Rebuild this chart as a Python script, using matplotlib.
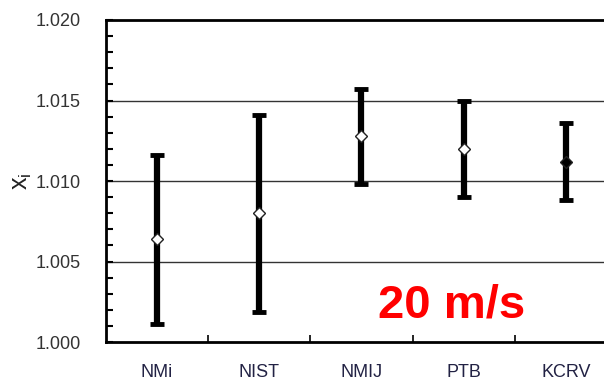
import numpy as np
import matplotlib.pyplot as plt

plt.rcParams['font.family'] = ['Liberation Sans', 'DejaVu Sans']

# data
labs = ["NMi", "NIST", "NMIJ", "PTB", "KCRV"]
vals = [1.0064, 1.0080, 1.0128, 1.0120, 1.0112]
lows = [1.0011, 1.0019, 1.0098, 1.0090, 1.0088]
highs = [1.0116, 1.0141, 1.0157, 1.0150, 1.0136]
yticks = [1.000, 1.005, 1.010, 1.015, 1.020]

fig = plt.figure(figsize=(6.04, 3.84), dpi=100)
ax = fig.add_axes([0.1755, 0.109, 0.846, 0.839])

x = np.arange(len(labs))
vals = np.array(vals)
err = [vals - np.array(lows), np.array(highs) - vals]

for yv in yticks[1:-1]:
    ax.axhline(yv, color="#333333", lw=1.0, zorder=1)

ax.errorbar(x, vals, yerr=err, fmt="none", ecolor="black", elinewidth=4.5,
            capsize=5, capthick=3.5, zorder=2)
for i in range(len(x)):
    fc = "black" if labs[i] == "KCRV" else "white"
    ax.plot(x[i], vals[i], marker="D", ms=6.5, mfc=fc, mec="#222222",
            mew=1.0, zorder=3)

ax.set_xlim(-0.5, len(labs) - 0.5)
ax.set_ylim(1.000, 1.020)
ax.set_yticks(yticks)
ax.set_yticklabels(["%.3f" % v for v in yticks], fontsize=13, color="#333333")
ax.set_yticks(np.arange(1.000, 1.0201, 0.001), minor=True)
ax.tick_params(axis="y", which="both", direction="in", length=5, width=1.5,
               pad=18)
ax.set_xticks(x)
ax.set_xticklabels(labs, fontsize=13, color="#222244")
ax.set_xticks(np.arange(0.5, len(labs) - 0.5, 1.0), minor=True)
ax.tick_params(axis="x", which="major", length=0, pad=16)
ax.tick_params(axis="x", which="minor", direction="in", length=5, width=1.2)

for s in ["left", "top", "bottom"]:
    ax.spines[s].set_linewidth(2)
ax.spines["right"].set_visible(False)

fig.text(0.037, 0.528, r"$\mathregular{x_i}$", fontsize=18, rotation=90,
         ha="center", va="center", color="#222222")

ax.text(2.88, 1.0023, "20 m/s", fontsize=34, fontweight="bold", color="#ff0000",
        ha="center", va="center")

fig.savefig("out.png", dpi=100)
